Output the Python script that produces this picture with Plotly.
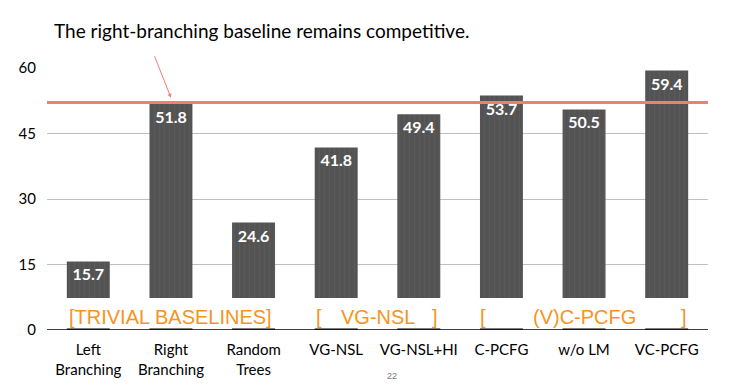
import plotly.graph_objects as go

categories = ["Left<br>Branching", "Right<br>Branching", "Random<br>Trees", "VG-NSL",
              "VG-NSL+HI", "C-PCFG", "w/o LM", "VC-PCFG"]
values = [15.7, 51.8, 24.6, 41.8, 49.4, 53.7, 50.5, 59.4]
y_ticks = [0, 15, 30, 45, 60]
baseline = values[1]

fig = go.Figure()
fig.add_trace(go.Bar(
    x=list(range(len(categories))), y=values,
    marker=dict(color="#535353", line=dict(width=0),
                pattern=dict(shape="|", fgcolor="#626262", size=5, solidity=0.25)),
    text=[f"{v:.1f}" for v in values], textposition="inside", insidetextanchor="end",
    textfont=dict(family="Lato", size=16, color="white", weight="bold"),
    cliponaxis=False, hoverinfo="skip",
))

orange = "#F7941D"
fig.update_layout(
    width=739, height=383, plot_bgcolor="white", paper_bgcolor="white",
    margin=dict(l=39, r=39, t=60, b=61), showlegend=False, bargap=0.48,
    xaxis=dict(tickmode="array", tickvals=list(range(len(categories))), ticktext=categories,
               range=[-0.5, len(categories) - 0.5], showgrid=False, zeroline=False,
               tickfont=dict(family="Lato", size=15, color="black"), ticks="",
               ticklabelstandoff=9),
    yaxis=dict(range=[0, 60], tickvals=y_ticks, showgrid=True, gridcolor="#BFBFBF", gridwidth=1,
               zeroline=False, tickfont=dict(family="Lato", size=15, color="black"),
               ticklabelstandoff=10),
    shapes=[
        dict(type="rect", xref="paper", yref="y", x0=0, x1=1, y0=0.4, y1=7.3,
             fillcolor="white", line=dict(width=0), layer="above"),
        dict(type="line", xref="paper", yref="y", x0=0, x1=1, y0=0, y1=0,
             line=dict(color="black", width=1.5), layer="above"),
        dict(type="line", xref="paper", yref="y", x0=0, x1=1, y0=baseline + 0.3, y1=baseline + 0.3,
             line=dict(color="#F47C78", width=3), layer="above"),
    ],
)

# title annotation with arrow
fig.add_annotation(text="The right-branching baseline remains competitive.",
                   xref="paper", yref="paper", x=0.008, y=1.0, yshift=38,
                   xanchor="left", yanchor="middle",
                   showarrow=False, font=dict(family="Lato", size=19, color="black"))
fig.add_annotation(x=1, y=baseline + 1.4, xref="x", yref="y", ax=-17, ay=-43,
                   showarrow=True, arrowhead=2, arrowsize=0.8, arrowwidth=1,
                   arrowcolor="#F47C78", text="")

# group labels
grp_font = dict(family="Liberation Sans", size=20, color=orange)
groups = [("[TRIVIAL BASELINES]", 1.0), ("[", 2.79), ("VG-NSL", 3.5), ("]", 4.2),
          ("[", 4.78), ("(V)C-PCFG", 6.0), ("]", 7.21)]
for txt, xpos in groups:
    fig.add_annotation(text=txt, x=xpos, y=3.0, xref="x", yref="y", showarrow=False,
                       font=grp_font, xanchor="center", yanchor="middle")

fig.add_annotation(text="22", xref="paper", yref="paper", x=0.5, y=-0.15, yanchor="top",
                   showarrow=False, font=dict(family="Liberation Sans", size=9, color="#777777"),
                   xshift=14)

fig.write_html("out.html")
